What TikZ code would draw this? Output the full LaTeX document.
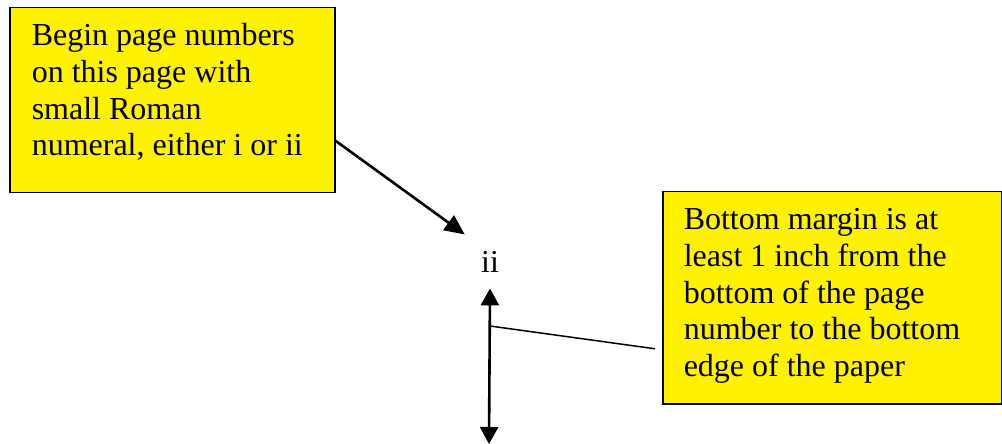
\documentclass[tikz,border=0pt]{standalone}
\usepackage{fontspec}
\setmainfont{Liberation Serif}
\usetikzlibrary{arrows.meta}

\begin{document}
\begin{tikzpicture}[x=0.5pt, y=-0.5pt]
    \tikzstyle{NoteStyle}=[draw=black, line width=0.75pt, fill=yellow,
                           anchor=north west, inner xsep=11pt, inner ysep=8pt,
                           font=\fontsize{16}{18.3}\selectfont]
    \tikzstyle{PointerStyle}=[line width=1.3pt, -{Triangle[length=10pt,width=9pt]}]
    \useasboundingbox (0,0) rectangle (1002,444);
    \node[NoteStyle] (start) at (9,7)
        {\parbox[c][76.5pt][t]{140.5pt}{\raggedright Begin page numbers\\ on this page with\\ small Roman\\ numeral, either i or ii}};
    \node[NoteStyle, inner ysep=8.5pt, inner xsep=10.5pt] (margin) at (662,191)
        {\parbox[c][89pt][t]{148.5pt}{\raggedright Bottom margin is at\\ least 1 inch from the\\ bottom of the page\\ number to the bottom\\ edge of the paper}};
    \node[anchor=base, inner sep=8pt, font=\fontsize{16}{18.3}\selectfont] (pagenum) at (490,272) {ii};
    \coordinate (pagebottom) at (489,444);
    \coordinate (marginmid) at (490,326);
    \draw[PointerStyle] ([yshift=-20.25pt]start.east) -- (pagenum.north west);
    \draw[PointerStyle, {Triangle[length=8.5pt,width=9pt]}-{Triangle[length=8.5pt,width=9pt]}] (pagenum.south) -- (pagebottom);
    \draw[line width=0.75pt, shorten >=3.5pt] (marginmid) -- ([yshift=-26pt]margin.west);
\end{tikzpicture}
\end{document}
